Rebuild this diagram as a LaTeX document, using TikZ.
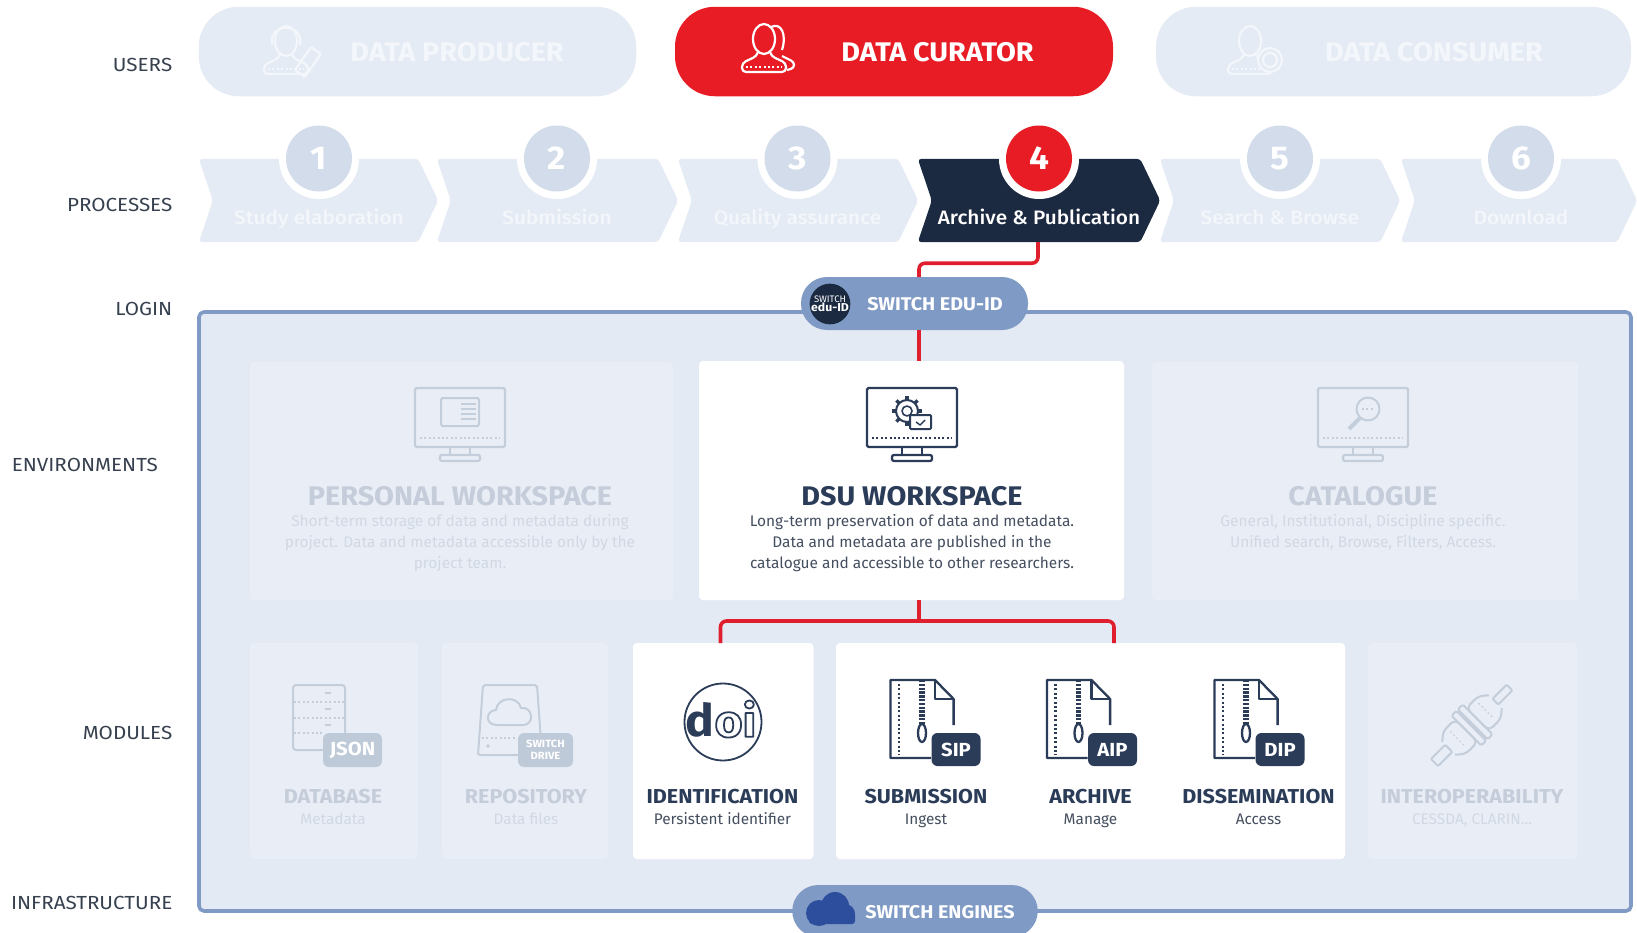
\documentclass[tikz,border=0pt]{standalone}
\usepackage{fontspec}
\setmainfont{Fira Sans}[BoldFeatures={FakeStretch=1.07}]
\newfontfamily\labelfont{Fira Sans}[FakeStretch=1.09]
\newfontfamily\stepfont{Fira Sans Medium}[FakeStretch=1.07]
\usetikzlibrary{positioning}
\definecolor{paneblue}{HTML}{E4EAF4}
\definecolor{fadecard}{HTML}{E9EEF6}
\definecolor{palepill}{HTML}{E5EBF4}
\definecolor{paleword}{HTML}{F3F6FA}
\definecolor{paledisc}{HTML}{D3DCEA}
\definecolor{edgeblue}{HTML}{7F9AC5}
\definecolor{curred}{HTML}{E81C24}
\definecolor{linered}{HTML}{E01F2E}
\definecolor{navy}{HTML}{1B2A41}
\definecolor{icondark}{HTML}{2B3C58}
\definecolor{iconfade}{HTML}{C4CDDA}
\definecolor{badgefade}{HTML}{BFCAD9}
\definecolor{headfade}{HTML}{C5CDDA}
\definecolor{bodyfade}{HTML}{D1D8E3}
\definecolor{bodydark}{HTML}{454F60}
\definecolor{sidetext}{HTML}{36404E}
\definecolor{cloudblue}{HTML}{2C4E9C}
\tikzset{
  sidelabel/.style={anchor=east,text=sidetext,inner sep=0,font=\labelfont\fontsize{19}{19}\selectfont},
  rolepill/.style={rounded corners=40bp,minimum height=89.5bp,inner sep=0},
  roleword/.style={inner sep=0,font=\fontsize{27}{27}\selectfont\bfseries},
  disc/.style={circle,minimum size=66bp,inner sep=0,font=\fontsize{33}{33}\selectfont\bfseries},
  ring/.style={circle,fill=white,minimum size=80bp,inner sep=0},
  stepword/.style={inner sep=0,text height=14bp,text depth=4bp,font=\stepfont\fontsize{19.5}{19.5}\selectfont},
  servpill/.style={fill=edgeblue,rounded corners=26bp,inner sep=0},
  servword/.style={text=white,inner sep=0,font=\fontsize{18.5}{18.5}\selectfont\bfseries},
  card/.style={rounded corners=4bp,inner sep=0,outer sep=0},
  envtitle/.style={inner sep=0,font=\fontsize{27}{27}\selectfont\bfseries},
  envtext/.style={inner sep=0,align=center,font=\fontsize{15.5}{21}\selectfont},
  modtitle/.style={inner sep=0,font=\fontsize{20.2}{20.2}\selectfont\bfseries},
  modtext/.style={inner sep=0,text height=12bp,text depth=3.5bp,font=\fontsize{15.4}{15.4}\selectfont},
  badge/.style={rounded corners=6bp,minimum width=49bp,minimum height=33bp,inner sep=0,text=white,font=\fontsize{19}{19}\selectfont\bfseries},
  redline/.style={draw=linered,line width=3.6bp,rounded corners=6bp},
  dots/.style={dash pattern=on 2bp off 2.4bp},
}
\newcommand{\procstep}[5]{%
  \node (#1) at (#2,200.5) [minimum width=#3bp,minimum height=83bp,inner sep=0] {};
  \fill[#4,rounded corners=3.5bp] (#1.north west) -- ([xshift=-20bp]#1.north east) -- (#1.east)
    -- ([xshift=-20bp]#1.south east) -- (#1.south west) -- ([xshift=14bp]#1.west) -- cycle;
  \node (#1ring) at (#5,159) [ring] {};
}
\newcommand{\monitoricon}[2]{%
  \begin{scope}[shift={(#1,0)},color=#2,line width=2.3bp]
    \draw[rounded corners=1.5bp] (-45,388) rectangle (45,447);
    \draw (-10,447) -- (-10,455) (10,447) -- (10,455);
    \draw[rounded corners=2bp] (-20,455) rectangle (20,461);
    \draw[dots] (-40,438) -- (40,438);
  \end{scope}}
\newcommand{\zipicon}[3]{%
  \begin{scope}[shift={(#2,0)},color=icondark,line width=2.3bp]
    \draw (953.6,725) -- (953.6,699) -- (935,680) -- (890.4,680) -- (890.4,758) -- (931,758);
    \draw (935,680) -- (935,699) -- (953.6,699);
    \draw[dots] (899,684) -- (899,755);
    \draw[line width=5.5bp,dash pattern=on 2.4bp off 1.4bp] (922,680) -- (922,725);
    \draw (922,733) ellipse (4bp and 9bp);
    \node (#1) at (956,749.5) [badge,fill=icondark] {#3};
  \end{scope}}
\newcommand{\personicon}[3]{%
  \begin{scope}[shift={(#1,#2)},color=#3,line width=2.2bp]
    \draw (0,-8) ellipse (11bp and 15bp);
    \draw[rounded corners=4bp] (-6,5) -- (-7,9) -- (-22,16) -- (-22,25) -- (22,25) -- (22,16) -- (7,9) -- (6,5);
    \draw[dots] (-18,20) -- (18,20);
  \end{scope}}
\begin{document}
\begin{tikzpicture}[x=1bp,y=-1bp,line join=round]
    \useasboundingbox (0,0) rectangle (1637,932);
    \clip (0,0) rectangle (1637,932);
    %%
    \node (users) at (172.5,65) [sidelabel] {USERS};
    \node (processes) at (172.5,205) [sidelabel] {PROCESSES};
    \node (login) at (172.5,309) [sidelabel] {LOGIN};
    \node (environments) at (158,465) [sidelabel] {ENVIRONMENTS};
    \node (modules) at (172.5,733) [sidelabel] {MODULES};
    \node (infrastructure) at (172.5,903) [sidelabel] {INFRASTRUCTURE};
    %%
    \node (producer) at (417.5,51.5) [rolepill,fill=palepill,minimum width=437.5bp] {};
    \node (curator) at (894,51.5) [rolepill,fill=curred,minimum width=438bp] {};
    \node (consumer) at (1393.5,51.5) [rolepill,fill=palepill,minimum width=475bp] {};
    \node (producerword) at (457,52) [roleword,text=paleword] {DATA PRODUCER};
    \node (curatorword) at (937.5,52) [roleword,text=white] {DATA CURATOR};
    \node (consumerword) at (1434,52) [roleword,text=paleword] {DATA CONSUMER};
    \personicon{286}{49}{paleword}
    \begin{scope}[color=paleword,line width=2.2bp]
      \draw (272,45) .. controls (268,22) and (304,22) .. (300,45);
      \draw[rotate around={-35:(308,62)},rounded corners=1bp] (302,48) rectangle (314,76);
    \end{scope}
    \personicon{764}{47}{white}
    \begin{scope}[color=white,line width=2.2bp]
      \draw (771,27) .. controls (781,22) and (787,34) .. (782,50);
      \draw[rounded corners=3bp] (782,56) -- (794,62) -- (794,68) -- (787,70);
    \end{scope}
    \personicon{1250}{49}{paleword}
    \draw[paleword,line width=2.2bp,fill=palepill] (1270,60) circle (12bp);
    \draw[paleword,line width=2.2bp] (1270,60) circle (7bp);
    %%
    \procstep{study}{318.5}{239}{palepill}{319}
    \procstep{submit}{557.5}{241}{palepill}{557}
    \procstep{quality}{798}{240}{palepill}{797.5}
    \procstep{archive}{1039}{242}{navy}{1039}
    \procstep{search}{1280}{240}{palepill}{1280}
    \procstep{download}{1519}{236}{palepill}{1521}
    \node (n1) at (319,158.5) [disc,fill=paledisc,text=white] {1};
    \node (n2) at (557,158.5) [disc,fill=paledisc,text=white] {2};
    \node (n3) at (797.5,158.5) [disc,fill=paledisc,text=white] {3};
    \node (n4) at (1039,158.5) [disc,fill=curred,text=white] {4};
    \node (n5) at (1280,158.5) [disc,fill=paledisc,text=white] {5};
    \node (n6) at (1521,158.5) [disc,fill=paledisc,text=white] {6};
    \node (w1) at (319,219) [stepword,text=paleword] {Study elaboration};
    \node (w2) at (557,219) [stepword,text=paleword] {Submission};
    \node (w3) at (797.5,219) [stepword,text=paleword] {Quality assurance};
    \node (w4) at (1039,219) [stepword,text=white] {Archive \& Publication};
    \node (w5) at (1280,219) [stepword,text=paleword] {Search \& Browse};
    \node (w6) at (1521,219) [stepword,text=paleword] {Download};
    %%
    \node (panel) at (915,611.5) [draw=edgeblue,fill=paneblue,line width=3.6bp,rounded corners=5bp,minimum width=1432bp,minimum height=599bp,inner sep=0] {};
    \node (eduid) at (914.5,303.5) [servpill,minimum width=227bp,minimum height=53bp] {};
    \node (eduidlogo) at (830,304) [circle,fill=navy,minimum size=40bp,inner sep=0,align=center,text=white,font=\fontsize{9.5}{9.5}\selectfont] {SWITCH\\[-0.5bp]{\fontsize{11.5}{11}\selectfont\bfseries edu-ID}};
    \node (eduidword) at (935,304.5) [servword] {SWITCH EDU-ID};
    \node (engines) at (915,911) [servpill,minimum width=245.5bp,minimum height=52bp] {};
    \fill[cloudblue] (819,913) circle (13bp) (835,906) circle (14bp) (845,914) circle (10bp);
    \fill[cloudblue,rounded corners=3bp] (809,912) rectangle (855,924);
    \node (enginesword) at (940,912) [servword] {SWITCH ENGINES};
    %%
    \coordinate (loginin) at (919,277);
    \coordinate (loginout) at (919,330);
    \coordinate (fork) at (919,621);
    \coordinate (idtop) at (720.5,643);
    \coordinate (grouptop) at (1114,643);
    %%
    \node (personal) at (461.5,481) [card,fill=fadecard,minimum width=423bp,minimum height=238bp] {};
    \node (dsu) at (911.5,480.5) [card,fill=white,minimum width=425bp,minimum height=239bp] {};
    \node (catalogue) at (1365,481) [card,fill=fadecard,minimum width=426bp,minimum height=238bp] {};
    \node (database) at (334,751) [card,fill=fadecard,minimum width=168bp,minimum height=216bp] {};
    \node (repository) at (525,751) [card,fill=fadecard,minimum width=166bp,minimum height=216bp] {};
    \node (identification) at (723.25,751) [card,fill=white,minimum width=180.5bp,minimum height=216bp] {};
    \node (package) at (1090.5,751) [card,fill=white,minimum width=509bp,minimum height=216bp] {};
    \node (interop) at (1472.5,751) [card,fill=fadecard,minimum width=209bp,minimum height=216bp] {};
    %%
    \draw[redline] ([xshift=-1bp]archive.south) -- ++(0,21) -| (loginin);
    \draw[redline] (loginout) -- (dsu.north -| loginout);
    \draw[redline] (dsu.south -| fork) -- (fork);
    \draw[redline] (idtop) |- (fork) -| (grouptop);
    %%
    \monitoricon{460}{iconfade}
    \monitoricon{912}{icondark}
    \monitoricon{1363}{iconfade}
    \begin{scope}[color=iconfade,line width=2bp]
      \draw[rounded corners=1.5bp] (441,398) rectangle (479,426);
      \draw (461,404) -- (476,404) (461,409) -- (476,409) (461,414) -- (476,414) (461,419) -- (476,419);
      \draw (1368,409) circle (11.5bp);
      \draw[dots] (1362,409) -- (1375,409);
      \draw[line width=4bp] (1360,418) -- (1349,429);
    \end{scope}
    \begin{scope}[shift={(907,411)},color=icondark]
      \draw[line width=2bp] (0,0) circle (11bp);
      \draw[line width=1.6bp] (0,0) circle (5bp);
      \foreach \a in {0,45,...,315} \draw[line width=3.5bp] (\a:11) -- (\a:15);
    \end{scope}
    \draw[icondark,line width=2bp,fill=white,rounded corners=1bp] (910,415) rectangle (931,429);
    \draw[icondark,line width=1.4bp] (916,422) -- (920,425) -- (925,420);
    %%
    \node (personaltitle) at (460,496) [envtitle,text=headfade] {PERSONAL WORKSPACE};
    \node (dsutitle) at (912,496) [envtitle,text=icondark] {DSU WORKSPACE};
    \node (cattitle) at (1363,496) [envtitle,text=headfade] {CATALOGUE};
    \node (personaltext) [below=8bp of personaltitle,envtext,text=bodyfade] {Short-term storage of data and metadata during\\project. Data and metadata accessible only by the\\project team.};
    \node (dsutext) [below=8bp of dsutitle,envtext,text=bodydark] {Long-term preservation of data and metadata.\\Data and metadata are published in the\\catalogue and accessible to other researchers.};
    \node (cattext) [below=8bp of cattitle,envtext,text=bodyfade] {General, Institutional, Discipline specific.\\Unified search, Browse, Filters, Access.};
    %%
    \begin{scope}[color=iconfade,line width=2bp]
      \draw[rounded corners=3bp] (293,685) rectangle (345,750);
      \draw[dots] (294,702) -- (344,702) (294,718) -- (344,718) (294,733) -- (322,733);
      \draw (325,693) -- (331,693) (325,709) -- (331,709) (325,725) -- (331,725);
      \draw[rounded corners=2bp] (483,685) -- (537,685) -- (542,755) -- (478,755) -- cycle;
      \draw (497,725) .. controls (484,725) and (486,710) .. (496,710) .. controls (497,697) and (518,695) .. (521,708) .. controls (533,706) and (535,725) .. (523,725) -- cycle;
      \draw[dots] (482,738) -- (516,738);
      \fill (488,746) circle (1.8bp);
    \end{scope}
    \node (jsonbadge) at (352.5,750) [badge,fill=badgefade,minimum width=59bp,minimum height=34bp] {JSON};
    \node (drivebadge) at (545.5,750) [badge,fill=badgefade,minimum width=55bp,minimum height=34bp,align=center,font=\fontsize{10.5}{12}\selectfont\bfseries] {SWITCH\\DRIVE};
    \draw[icondark,line width=1.8bp] (723,722) circle (38.5bp);
    \node (doi) at (721,719) [inner sep=0,text=icondark,font=\fontsize{45}{45}\selectfont\bfseries] {d\special{pdf:code 1 Tr 1.8 w}oi\special{pdf:code 0 Tr}};
    \zipicon{sip}{0}{SIP}
    \zipicon{aip}{156.5}{AIP}
    \zipicon{dip}{324}{DIP}
    \begin{scope}[shift={(1472,725)},rotate=45,color=iconfade,line width=2bp]
      \draw[rounded corners=1bp] (-53,-5) rectangle (-33,5) (33,-4) rectangle (53,4);
      \draw[rounded corners=5bp] (-33,-9) -- (-25,-16) -- (-8,-16) -- (-8,16) -- (-25,16) -- (-33,9);
      \draw[rounded corners=5bp] (33,-9) -- (25,-16) -- (8,-16) -- (8,16) -- (25,16) -- (33,9);
      \draw[rounded corners=1.5bp] (-8,-21) rectangle (-1,21) (1,-21) rectangle (8,21);
      \draw[dots,line width=1bp] (-20,-11) -- (-20,11) (20,-11) -- (20,11);
    \end{scope}
    %%
    \node (dbtitle) at (333,797) [modtitle,text=headfade] {DATABASE};
    \node (repotitle) at (526,797) [modtitle,text=headfade] {REPOSITORY};
    \node (idtitle) at (722.5,797) [modtitle,text=icondark] {IDENTIFICATION};
    \node (siptitle) at (926,797) [modtitle,text=icondark] {SUBMISSION};
    \node (aiptitle) at (1090.5,797) [modtitle,text=icondark] {ARCHIVE};
    \node (diptitle) at (1258.5,797) [modtitle,text=icondark] {DISSEMINATION};
    \node (inttitle) at (1472,797) [modtitle,text=headfade] {INTEROPERABILITY};
    \node (dbtext) at (333,820.5) [modtext,text=bodyfade] {Metadata};
    \node (repotext) at (526,820.5) [modtext,text=bodyfade] {Data files};
    \node (idtext) at (722.5,820.5) [modtext,text=bodydark] {Persistent identifier};
    \node (siptext) at (926,820.5) [modtext,text=bodydark] {Ingest};
    \node (aiptext) at (1090.5,820.5) [modtext,text=bodydark] {Manage};
    \node (diptext) at (1258.5,820.5) [modtext,text=bodydark] {Access};
    \node (inttext) at (1472,820.5) [modtext,text=bodyfade] {CESSDA, CLARIN...};
    %
\end{tikzpicture}
\end{document}
